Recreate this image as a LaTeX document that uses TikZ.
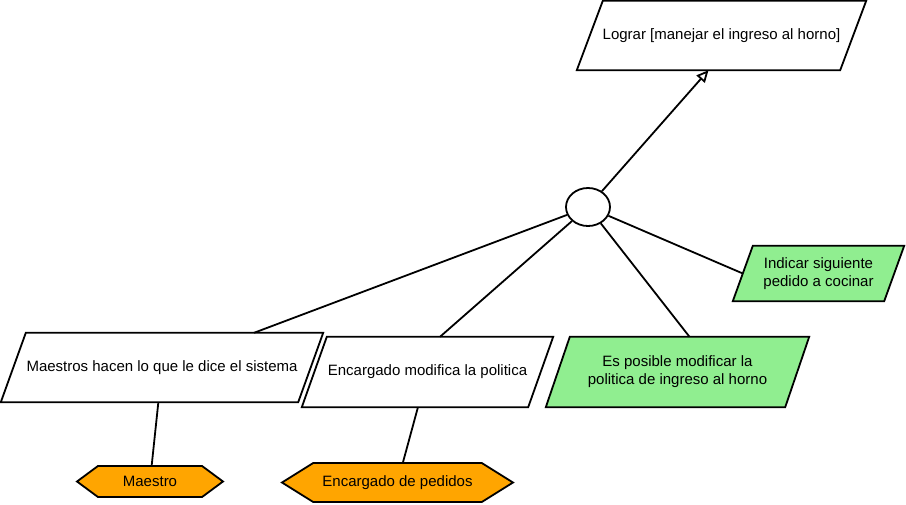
\documentclass[tikz,border=0pt]{standalone}
\usepackage{fontspec}
\setmainfont{Liberation Sans}
\usepackage{tikz}
\usetikzlibrary{arrows.meta,shapes.geometric,shapes.symbols,backgrounds,positioning}
\definecolor{goalgreen}{RGB}{144,238,144}
\definecolor{actororange}{RGB}{255,165,0}

\begin{document}
\begin{tikzpicture}[x=1pt,y=-1pt,
    every node/.style={font=\fontsize{15}{18}\selectfont, align=center, inner sep=0pt},
    goalline/.style={draw, line width=1.8pt, line join=miter},
    actor/.style={draw, line width=1.8pt, fill=actororange, signal, signal to=west and east, signal pointer angle=#1},
    link/.style={line width=1.8pt}]
    \useasboundingbox (0,0) rectangle (906,504);
    \node[minimum width=289pt, minimum height=69pt] (top) at (721.5,35.5) {Lograr [manejar el ingreso al horno]};
    \node[draw, ellipse, line width=1.8pt, minimum width=44pt, minimum height=38pt] (circ) at (588,207) {};
    \node[minimum width=322pt, minimum height=69pt] (mae) at (162,367.5) {Maestros hacen lo que le dice el sistema};
    \node[minimum width=251pt, minimum height=70pt] (enc) at (427.5,372) {Encargado modifica la politica};
    \node[minimum width=263pt, minimum height=70pt] (esp) at (677.5,372) {Es posible modificar la\\politica de ingreso al horno};
    \node[minimum width=171pt, minimum height=55pt] (ind) at (818.5,273.5) {Indicar siguiente\\pedido a cocinar};
    \node[actor=73, minimum width=146pt, minimum height=31pt] (maehex) at (150,481.5) {Maestro};
    \node[actor=64, minimum width=231pt, minimum height=39pt] (pedhex) at (397.5,482.5) {Encargado de pedidos};
    \begin{scope}[on background layer]
        \draw[goalline, fill=white] ([xshift=26pt]top.north west) -- (top.north east) -- ([xshift=-26pt]top.south east) -- (top.south west) -- cycle;
        \draw[goalline, fill=white] ([xshift=25pt]mae.north west) -- (mae.north east) -- ([xshift=-25pt]mae.south east) -- (mae.south west) -- cycle;
        \draw[goalline, fill=white] ([xshift=25pt]enc.north west) -- (enc.north east) -- ([xshift=-25pt]enc.south east) -- (enc.south west) -- cycle;
        \draw[goalline, fill=goalgreen] ([xshift=24pt]esp.north west) -- (esp.north east) -- ([xshift=-24pt]esp.south east) -- (esp.south west) -- cycle;
        \draw[goalline, fill=goalgreen] ([xshift=20pt]ind.north west) -- (ind.north east) -- ([xshift=-20pt]ind.south east) -- (ind.south west) -- cycle;
    \end{scope}
    \draw[link, -{Triangle[open, length=12pt, width=11pt]}] (circ) -- ([xshift=-13pt]top.south);
    \draw[link] (circ) -- (mae);
    \draw[link] (circ) -- ([xshift=12.5pt]enc.north);
    \draw[link] (circ) -- ([xshift=12pt]esp.north);
    \draw[link] (circ) -- ([xshift=10pt]ind.west);
    \draw[link] (mae) -- (maehex);
    \draw[link] (enc) -- (pedhex);
\end{tikzpicture}
\end{document}
